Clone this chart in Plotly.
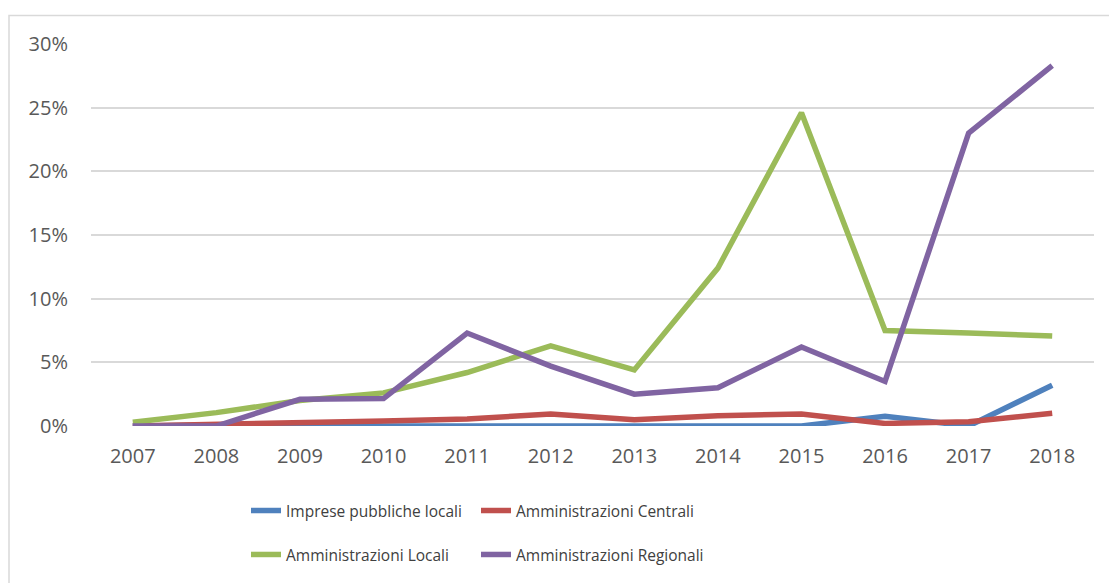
import plotly.graph_objects as go

years = ["2007", "2008", "2009", "2010", "2011", "2012", "2013", "2014", "2015", "2016", "2017", "2018"]
imprese = [0.0, 0.05, 0.15, 0.0, 0.0, 0.0, 0.0, 0.0, 0.0, 0.76, 0.0, 3.2]
centrali = [0.0, 0.1, 0.25, 0.4, 0.55, 0.94, 0.5, 0.8, 0.94, 0.2, 0.34, 1.0]
locali = [0.3, 1.05, 2.0, 2.6, 4.2, 6.3, 4.4, 12.4, 24.6, 7.5, 7.3, 7.07]
regionali = [0.0, 0.0, 2.1, 2.15, 7.3, 4.7, 2.5, 3.0, 6.2, 3.5, 23.0, 28.3]
y_ticks = [0, 5, 10, 15, 20, 25, 30]
y_labels = ["0%", "5%", "10%", "15%", "20%", "25%", "30%"]

FONT = "Open Sans"
fig = go.Figure()
series = [
    ("Imprese pubbliche locali", imprese, "#4F81BD", "legend"),
    ("Amministrazioni Centrali", centrali, "#C0504D", "legend2"),
    ("Amministrazioni Locali", locali, "#9BBB59", "legend3"),
    ("Amministrazioni Regionali", regionali, "#8064A2", "legend4"),
]
for name, vals, col, lg in series:
    fig.add_trace(go.Scatter(x=years, y=vals, name=name, mode="lines", showlegend=True,
                             line=dict(color=col, width=5.5), legend=lg))


def leg(xpix, ypix):
    return dict(orientation="h", x=(xpix - 91) / 1003, y=(427 - ypix) / 383.3,
                xanchor="left", yanchor="middle",
                font=dict(family=FONT, size=15.5, color="#404040"),
                bgcolor="rgba(0,0,0,0)")


fig.update_layout(
    width=1109, height=583,
    showlegend=True,
    margin=dict(l=91, r=15, t=44, b=156),
    paper_bgcolor="white", plot_bgcolor="white",
    font=dict(family=FONT, size=20, color="#595959"),
    xaxis=dict(type="category", range=[-0.5, 11.5], showgrid=False, showline=False, ticks="",
               ticklabelstandoff=16, tickfont=dict(size=20, color="#595959")),
    yaxis=dict(range=[0, 30], tickmode="array", tickvals=y_ticks, ticktext=y_labels,
               showgrid=True, gridcolor="#D9D9D9", gridwidth=1.5, zeroline=False,
               showline=False, ticklabelstandoff=22, tickfont=dict(size=20, color="#595959")),
    legend=leg(246, 511),
    legend2=leg(476, 511),
    legend3=leg(246, 555),
    legend4=leg(476, 555),
    shapes=[dict(type="rect", xref="paper", yref="paper",
                 x0=(9 - 91) / 1003, x1=1.1, y0=-0.5, y1=(427 - 15) / 383.3,
                 line=dict(color="#D9D9D9", width=1.5), fillcolor="rgba(0,0,0,0)", layer="below")],
)

fig.write_html("out.html")
